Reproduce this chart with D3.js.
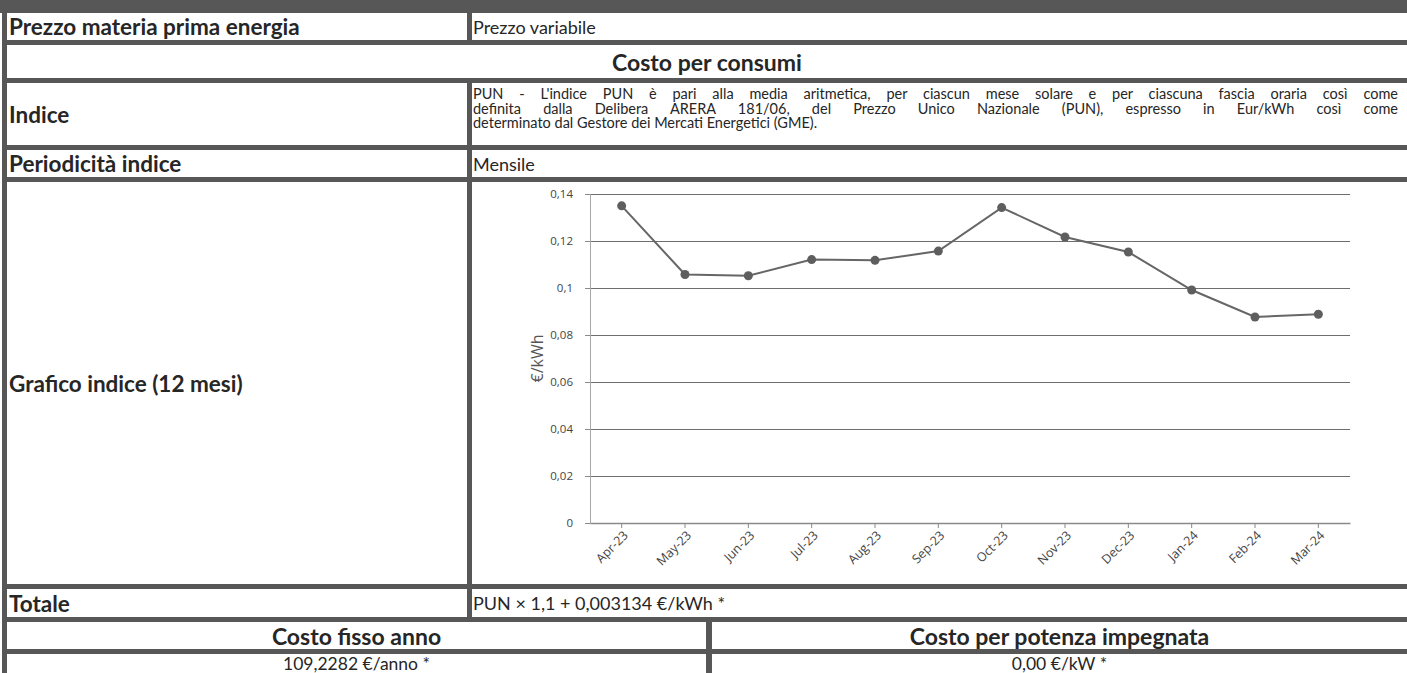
<!DOCTYPE html>
<html>
<head>
<meta charset="utf-8">
<title>Costo per consumi</title>
<script src="https://cdn.jsdelivr.net/npm/d3@7"></script>
<style>
    body { margin: 0; background: #fff; overflow: hidden; }
    #page { position: absolute; left: 0; top: 0; width: 1407px; height: 673px; overflow: hidden;
            background: #575757; font-family: Lato, "Open Sans", sans-serif; color: #262626; }
    .cell { position: absolute; background: #fff; box-sizing: border-box; display: flex;
            align-items: center; overflow: hidden; white-space: nowrap; }
    .lbl { font-weight: bold; font-size: 22.5px; padding-left: 2px; }
    .head { font-weight: bold; font-size: 23px; justify-content: center; }
    .val { font-size: 18px; padding-left: 1px; }
    .mid { justify-content: center; font-size: 17.5px; line-height: 19px; }
    .para { align-items: flex-start; padding: 4px 9px 0 1px; font-size: 14.5px; line-height: 14.6px; white-space: normal; }
    .para div { text-align: justify; text-align-last: justify; white-space: nowrap; }
    .para div.last { text-align-last: left; }
    .chart text { font-family: "Open Sans", sans-serif; font-size: 11.5px; fill: #444; }
    .chart .x-axis text { font-size: 12.5px; }
</style>
</head>
<body>
<div id="page"></div>
<script>
/*global d3 */
(function () {
    "use strict";

    // --- data -------------------------------------------------------------
    var months = ["Apr-23", "May-23", "Jun-23", "Jul-23", "Aug-23", "Sep-23",
                  "Oct-23", "Nov-23", "Dec-23", "Jan-24", "Feb-24", "Mar-24"];
    var punValues = [0.13497, 0.10573, 0.10519, 0.11209, 0.11178, 0.11570,
                     0.13423, 0.12169, 0.11531, 0.09915, 0.08765, 0.08884];
    var yTicks = [0, 0.02, 0.04, 0.06, 0.08, 0.1, 0.12, 0.14];
    var yTitle = "€/kWh";

    var rowLabels = ["Prezzo materia prima energia", "Indice", "Periodicità indice",
                     "Grafico indice (12 mesi)", "Totale"];
    var sectionTitle = "Costo per consumi";
    var priceType = "Prezzo variabile";
    var indexLines = [
        "PUN - L'indice PUN è pari alla media aritmetica, per ciascun mese solare e per ciascuna fascia oraria così come",
        "definita dalla Delibera ARERA 181/06, del Prezzo Unico Nazionale (PUN), espresso in Eur/kWh così come",
        "determinato dal Gestore dei Mercati Energetici (GME)."
    ];
    var periodicity = "Mensile";
    var totalFormula = "PUN × 1,1 + 0,003134 €/kWh *";
    var fixedHeads = ["Costo fisso anno", "Costo per potenza impegnata"];
    var fixedValues = ["109,2282 €/anno *", "0,00 €/kW *"];

    // --- table layout -----------------------------------------------------
    var page = d3.select("#page");

    function cell(x, y, w, h, cls) {
        return page.append("div").attr("class", "cell " + cls)
            .style("left", x + "px").style("top", y + "px")
            .style("width", w + "px").style("height", h + "px");
    }

    // thin white strip at far left, under the top band
    cell(0, 13, 2, 660, "");

    var rows = [{y: 13, h: 27}, {y: 83, h: 62}, {y: 150, h: 27}, {y: 182, h: 402}, {y: 589, h: 28}];
    rows.forEach(function (r, i) {
        cell(7, r.y, 460, r.h, "lbl").text(rowLabels[i]);
    });

    cell(472, 13, 935, 27, "val").text(priceType);
    cell(7, 45, 1400, 33, "head").text(sectionTitle);

    var para = cell(472, 83, 935, 62, "para").append("div").style("width", "100%");
    para.selectAll("div").data(indexLines).enter().append("div")
        .classed("last", function (d, i) { return i === indexLines.length - 1; })
        .text(function (d) { return d; });

    cell(472, 150, 935, 27, "val").text(periodicity);
    var chartCell = cell(472, 182, 935, 402, "");
    cell(472, 589, 935, 28, "val").text(totalFormula);

    cell(7, 622, 699, 27, "head").text(fixedHeads[0]);
    cell(712, 622, 695, 27, "head").text(fixedHeads[1]);
    cell(7, 654, 699, 19, "mid").text(fixedValues[0]);
    cell(712, 654, 695, 19, "mid").text(fixedValues[1]);

    // --- chart ------------------------------------------------------------
    var W = 935, H = 402,
        margin = {top: 12, right: 57, bottom: 61, left: 118},
        width = W - margin.left - margin.right,
        height = H - margin.top - margin.bottom;

    var svg = chartCell.append("svg").attr("class", "chart")
        .attr("width", W).attr("height", H)
        .style("position", "absolute").style("left", 0).style("top", 0);
    var g = svg.append("g").attr("transform", "translate(" + margin.left + "," + margin.top + ")");

    var itLocale = d3.formatLocale({decimal: ",", thousands: ".", grouping: [3], currency: ["€", ""]});
    var fmt = itLocale.format(".2~f");

    var x = d3.scaleBand().domain(months).range([0, width]);
    var y = d3.scaleLinear().domain([0, 0.14]).range([height, 0]);

    // gridlines
    g.append("g").attr("class", "grid")
        .call(d3.axisLeft(y).tickValues(yTicks).tickSize(-width).tickFormat(""))
        .call(function (s) {
            s.select(".domain").remove();
            s.selectAll("line").attr("stroke", "#6e6e6e")
                .filter(function (d) { return d === 0; }).remove();
        });

    // y axis
    g.append("g").attr("class", "y-axis")
        .call(d3.axisLeft(y).tickValues(yTicks).tickSize(5).tickPadding(12).tickFormat(fmt))
        .call(function (s) {
            s.select(".domain").attr("stroke", "#a8a8a8");
            s.selectAll("line").attr("stroke", "#8a8a8a");
            s.selectAll("text").attr("font-family", null).attr("font-size", null);
        });

    // x axis
    g.append("g").attr("class", "x-axis")
        .attr("transform", "translate(0," + height + ")")
        .call(d3.axisBottom(x).tickSize(5).tickSizeOuter(0))
        .call(function (s) {
            s.select(".domain").attr("stroke", "#8a8a8a").attr("stroke-width", 1.5);
            s.selectAll("line").attr("stroke", "#8a8a8a");
            s.selectAll("text").attr("font-family", null).attr("font-size", null)
                .attr("y", 0).attr("dy", "0.35em")
                .attr("text-anchor", "end")
                .attr("transform", "translate(4,10) rotate(-45)");
        });

    // axis title
    g.append("text")
        .attr("transform", "translate(" + (-47) + "," + (height / 2) + ") rotate(-90)")
        .attr("text-anchor", "middle")
        .style("font-size", "16px").style("fill", "#555")
        .text(yTitle);

    // line + points
    var line = d3.line()
        .x(function (d, i) { return x(months[i]) + x.bandwidth() / 2; })
        .y(function (d) { return y(d); });

    g.append("path").datum(punValues)
        .attr("fill", "none").attr("stroke", "#666").attr("stroke-width", 2)
        .attr("d", line);

    g.selectAll("circle.pt").data(punValues).enter().append("circle")
        .attr("class", "pt")
        .attr("cx", function (d, i) { return x(months[i]) + x.bandwidth() / 2; })
        .attr("cy", function (d) { return y(d); })
        .attr("r", 4.5)
        .attr("fill", "#5e5e5e");
}());
</script>
</body>
</html>
